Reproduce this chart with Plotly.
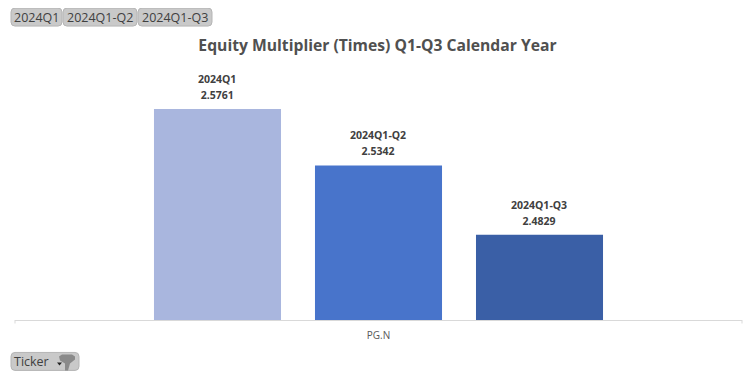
import plotly.graph_objects as go

ticker = ["PG.N"]
periods = ["2024Q1", "2024Q1-Q2", "2024Q1-Q3"]
values = [2.5761, 2.5342, 2.4829]
colors = ["#A9B6DE", "#4874CB", "#3A5FA6"]
chart_title = "Equity Multiplier (Times) Q1-Q3 Calendar Year"
slicer_labels = ["2024Q1", "2024Q1-Q2", "2024Q1-Q3"]
filter_label = "Ticker"

OFF = 8  # the page body adds this margin round the figure
W, H = 756 - OFF, 378 - OFF
L, R, T, B = 15, 742, 60, 320.5
FONT = "Open Sans"


def px(x):
    return (x - L) / (R - L)


def py(y):
    return (B - y) / (B - T)


def rrect(x0, y0, x1, y1, r=4):
    a, b, c, d = px(x0), px(x1), py(y0), py(y1)
    rx, ry = r / (R - L), r / (B - T)
    return (f"M{a+rx},{c} L{b-rx},{c} Q{b},{c} {b},{c-ry} L{b},{d+ry} Q{b},{d} {b-rx},{d} "
            f"L{a+rx},{d} Q{a},{d} {a},{d+ry} L{a},{c-ry} Q{a},{c} {a+rx},{c} Z")


def poly(points):
    return "M" + " L".join(f"{px(x)},{py(y)}" for x, y in points) + " Z"


fig = go.Figure()
annotations = []
slot = 161
for i, (name, val, col) in enumerate(zip(periods, values, colors)):
    fig.add_trace(go.Bar(x=ticker, y=[val], name=name, marker=dict(color=col, line=dict(width=0))))
    annotations.append(dict(
        text=f"<span style='font-size:10.5px'><b>{name}<br>{val:.4f}</b></span>",
        xref="x", yref="y", x=ticker[0], y=val, xshift=(i - 1) * slot - 1, yshift=5,
        xanchor="center", yanchor="bottom", showarrow=False, align="center",
        font=dict(family=FONT, size=12, color="#404040"),
    ))

shapes = []
button_boxes = [(11, 62), (63, 137), (138, 212)]
for (x0, x1), lab in zip(button_boxes, slicer_labels):
    shapes.append(dict(type="path", path=rrect(x0, 8, x1, 26), xref="paper", yref="paper",
                       fillcolor="#C9C9C9", line=dict(color="#B5B5B5", width=1), layer="above"))
    annotations.append(dict(text=lab, xref="paper", yref="paper", x=px((x0 + x1) / 2 - 0.5), y=py(17),
                            xanchor="center", yanchor="middle", showarrow=False,
                            font=dict(family=FONT, size=12.5, color="#404040")))

shapes.append(dict(type="path", path=rrect(11, 353, 79, 371), xref="paper", yref="paper",
                   fillcolor="#C9C9C9", line=dict(color="#B5B5B5", width=1), layer="above"))
annotations.append(dict(text=filter_label, xref="paper", yref="paper", x=px(12), y=py(362),
                        xanchor="left", yanchor="middle", showarrow=False,
                        font=dict(family=FONT, size=12.5, color="#404040")))
# drop arrow and funnel icon of the filter button
shapes.append(dict(type="path", path=poly([(57, 363), (62, 363), (59.5, 366)]), xref="paper", yref="paper",
                   fillcolor="#222222", line=dict(width=0), layer="above"))
shapes.append(dict(type="path",
                   path=poly([(59, 357), (62, 355), (72, 355), (75, 357), (75, 360), (70, 364), (68, 371),
                              (65, 371), (65, 364), (60, 361)]),
                   xref="paper", yref="paper", fillcolor="#8A8A8A", line=dict(width=0), layer="above"))
# axis end ticks
for x in (L, R):
    shapes.append(dict(type="line", xref="paper", yref="paper", x0=px(x), x1=px(x), y0=0, y1=py(324),
                       line=dict(color="#D9D9D9", width=1)))

fig.update_layout(
    width=W, height=H, autosize=False,
    margin=dict(l=L - OFF, r=756 - R, t=T - OFF, b=378 - B, pad=0),
    paper_bgcolor="white", plot_bgcolor="white",
    barmode="group", bargap=0.3356, bargroupgap=0.211,
    showlegend=False,
    title=dict(text=f"<b>{chart_title}</b>", x=(377.5 - OFF) / W, xanchor="center", y=1 - (46 - OFF) / H,
               yanchor="middle", font=dict(family=FONT, size=15.7, color="#505050")),
    xaxis=dict(showline=True, linecolor="#D9D9D9", linewidth=1, ticks="", showgrid=False,
               tickfont=dict(family=FONT, size=10, color="#595959"), ticklabelstandoff=6),
    yaxis=dict(range=[2.4197, 2.4197 + (B - T) / 1352], visible=False, showgrid=False, zeroline=False),
    shapes=shapes, annotations=annotations,
)
fig.write_html("out.html", config=dict(displayModeBar=False))
